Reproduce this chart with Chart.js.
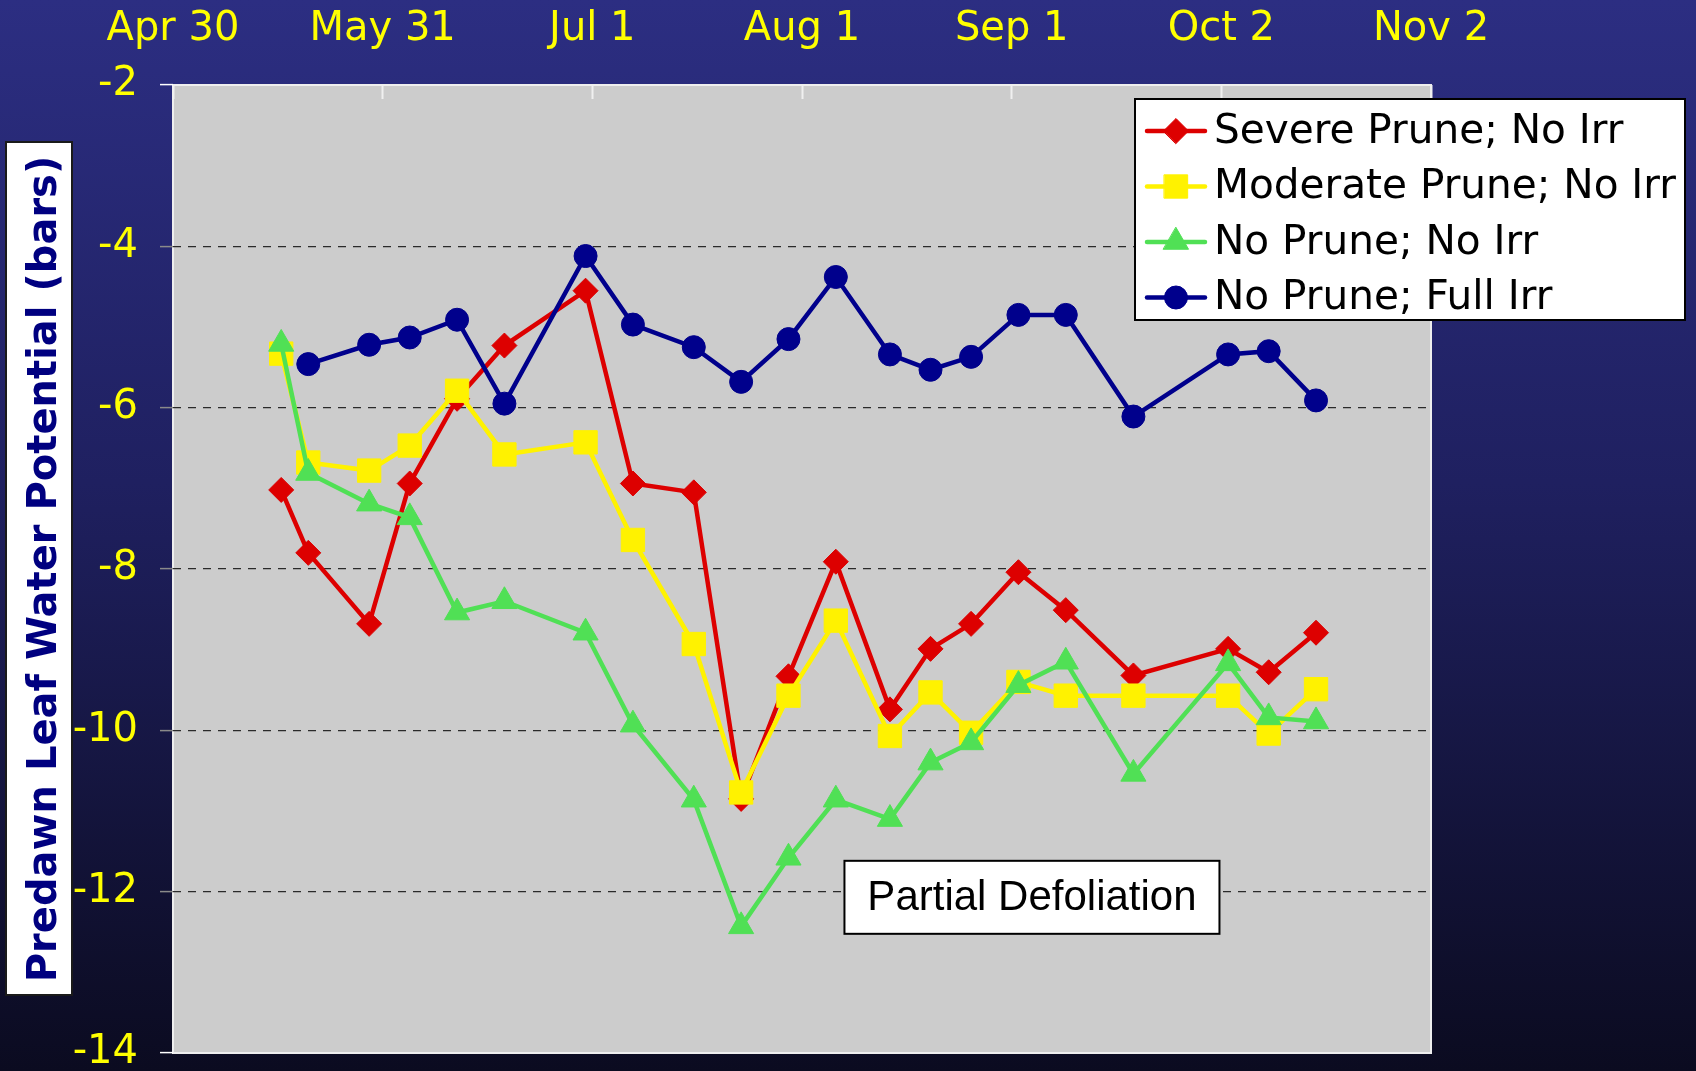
<!DOCTYPE html>
<html>
<head>
<meta charset="utf-8">
<title>Predawn Leaf Water Potential</title>
<script src="https://cdn.jsdelivr.net/npm/chart.js@4/dist/chart.umd.min.js"></script>
<style>
  html, body { margin: 0; padding: 0; }
  body {
    width: 1696px; height: 1071px; overflow: hidden;
    background: linear-gradient(to bottom, #2c2e82 0%, #1f2060 45%, #0b0b20 100%);
  }
  #chart { display: block; }
</style>
</head>
<body>
<canvas id="chart" width="1696" height="1071"></canvas>
<script>
// Sampling dates, counted in days after Apr 30
const sampleDays = [16, 20, 29, 35, 42, 49, 61, 68, 77, 84, 91, 98, 106, 112, 118, 125, 132, 142, 156, 162, 169];

// Predawn leaf water potential (bars) per treatment
const severePruneNoIrr   = [-7.02, -7.80, -8.68, -6.94, -5.89, -5.23, -4.55, -6.94, -7.05, -10.85, -9.33, -7.91, -9.74, -8.99, -8.68, -8.04, -8.51, -9.32, -8.99, -9.28, -8.79];
const moderatePruneNoIrr = [-5.33, -6.68, -6.78, -6.47, -5.79, -6.58, -6.43, -7.64, -8.93, -10.77, -9.57, -8.64, -10.07, -9.53, -10.03, -9.40, -9.57, -9.57, -9.57, -10.04, -9.49];
const noPruneNoIrr       = [-5.21, -6.81, -7.19, -7.36, -8.54, -8.40, -8.79, -9.93, -10.86, -12.43, -11.58, -10.86, -11.10, -10.40, -10.15, -9.44, -9.15, -10.54, -9.17, -9.84, -9.89];
const noPruneFullIrr     = [null, -5.46, -5.22, -5.13, -4.91, -5.95, -4.12, -4.97, -5.25, -5.68, -5.15, -4.38, -5.34, -5.53, -5.37, -4.85, -4.85, -6.11, -5.34, -5.30, -5.91];

const seriesNames = ['Severe Prune; No Irr', 'Moderate Prune; No Irr', 'No Prune; No Irr', 'No Prune; Full Irr'];

// Date axis: one major tick every 31 days
const dateTickLabels = ['Apr 30', 'May 31', 'Jul 1', 'Aug 1', 'Sep 1', 'Oct 2', 'Nov 2'];
const dateTickStep = 31;

// Value axis
const yMin = -14, yMax = -2, yStep = 2;

const annotationText = 'Partial Defoliation';

function points(values) {
  return values.map((v, i) => ({ x: sampleDays[i], y: v }));
}

const styles = [
  { color: '#dd0000', pointStyle: 'rectRot',  radius: 12.5 },
  { color: '#fff200', pointStyle: 'rect',     radius: 16.5 },
  { color: '#50e055', pointStyle: 'triangle', radius: 14.5 },
  { color: '#00008c', pointStyle: 'circle',   radius: 11.5 }
];
const seriesValues = [severePruneNoIrr, moderatePruneNoIrr, noPruneNoIrr, noPruneFullIrr];

const datasets = seriesValues.map((vals, i) => ({
  label: seriesNames[i],
  data: points(vals),
  borderColor: styles[i].color,
  backgroundColor: styles[i].color,
  pointBackgroundColor: styles[i].color,
  pointBorderColor: styles[i].color,
  pointBorderWidth: 1,
  pointStyle: styles[i].pointStyle,
  pointRadius: styles[i].radius,
  borderWidth: 4.5,
  tension: 0,
  order: seriesValues.length - i
}));

// Panel behind the y-axis title, plot background and frame
const backdrop = {
  id: 'backdrop',
  beforeDraw(chart) {
    const { ctx, chartArea: a } = chart;
    ctx.save();
    const panelTop = a.top + 57, panelBottom = a.bottom - 58;
    ctx.fillStyle = '#ffffff';
    ctx.fillRect(6, panelTop, 66, panelBottom - panelTop);
    ctx.strokeStyle = '#1a1a1a';
    ctx.lineWidth = 2;
    ctx.strokeRect(6, panelTop, 66, panelBottom - panelTop);

    ctx.fillStyle = '#cccccc';
    ctx.fillRect(a.left, a.top, a.right - a.left, a.bottom - a.top);
    ctx.strokeStyle = '#eeeeee';
    ctx.lineWidth = 2;
    ctx.strokeRect(a.left, a.top, a.right - a.left, a.bottom - a.top);
    ctx.restore();
  }
};

// Boxed legend and the defoliation note
const overlays = {
  id: 'overlays',
  afterDraw(chart) {
    const { ctx, chartArea: a } = chart;
    const xs = chart.scales.x, ys = chart.scales.y;
    ctx.save();

    // note box
    const cx = xs.getPixelForValue(127), cy = ys.getPixelForValue(-12.07);
    const bw = 375, bh = 73;
    ctx.fillStyle = '#ffffff';
    ctx.fillRect(cx - bw / 2, cy - bh / 2, bw, bh);
    ctx.strokeStyle = '#000000';
    ctx.lineWidth = 2;
    ctx.strokeRect(cx - bw / 2, cy - bh / 2, bw, bh);
    ctx.fillStyle = '#000000';
    ctx.font = '42px "Liberation Sans", Arial, sans-serif';
    ctx.textAlign = 'center';
    ctx.textBaseline = 'middle';
    ctx.fillText(annotationText, cx, cy + 1);

    // legend
    const lx = a.right - 296, ly = a.top + 14, lw = 550, lh = 221;
    ctx.fillStyle = '#ffffff';
    ctx.fillRect(lx, ly, lw, lh);
    ctx.strokeStyle = '#000000';
    ctx.lineWidth = 2;
    ctx.strokeRect(lx, ly, lw, lh);
    ctx.font = '40.6px "DejaVu Sans", Verdana, sans-serif';
    ctx.textAlign = 'left';
    ctx.textBaseline = 'middle';
    chart.data.datasets.forEach((ds, i) => {
      const y = ly + 32 + i * 55.5;
      ctx.strokeStyle = ds.borderColor;
      ctx.lineWidth = 4.5;
      ctx.lineCap = 'round';
      ctx.beginPath();
      ctx.moveTo(lx + 12, y);
      ctx.lineTo(lx + 70, y);
      ctx.stroke();
      ctx.fillStyle = ds.pointBackgroundColor;
      ctx.strokeStyle = ds.pointBorderColor;
      ctx.lineWidth = 1;
      Chart.helpers.drawPoint(ctx, { pointStyle: ds.pointStyle, radius: ds.pointRadius, rotation: 0, borderWidth: 1 }, lx + 41, y);
      ctx.fillStyle = '#000000';
      ctx.fillText(ds.label, lx + 79, y + 1);
    });
    ctx.restore();
  }
};

const hideEdges = (ctx, edge, inner) => {
  const v = ctx.tick ? ctx.tick.value : null;
  return (v === yMin || v === yMax) ? edge : inner;
};

new Chart(document.getElementById('chart'), {
  type: 'line',
  data: { datasets },
  plugins: [backdrop, overlays],
  options: {
    responsive: false,
    animation: false,
    layout: { padding: { top: 0, left: 0, right: 265, bottom: 18 } },
    plugins: { legend: { display: false }, tooltip: { enabled: false } },
    scales: {
      x: {
        type: 'linear',
        position: 'top',
        min: 0,
        max: dateTickStep * (dateTickLabels.length - 1),
        afterFit(scale) { scale.height = 85; },
        border: { display: false },
        grid: {
          drawOnChartArea: false,
          drawTicks: true,
          tickLength: -14,
          tickColor: '#f0f0f0',
          tickWidth: 2
        },
        ticks: {
          stepSize: dateTickStep,
          autoSkip: false,
          maxRotation: 0,
          padding: 45,
          color: '#ffff00',
          font: { family: '"DejaVu Sans"', size: 40 },
          callback: (v) => dateTickLabels[Math.round(v / dateTickStep)]
        }
      },
      y: {
        min: yMin,
        max: yMax,
        afterFit(scale) {
          scale.width = 173;
          scale.paddingTop = 0;
          scale.paddingBottom = 0;
        },
        border: { display: false, dash: [8, 7] },
        grid: {
          color: (ctx) => hideEdges(ctx, 'rgba(0,0,0,0)', '#2a2a2a'),
          lineWidth: 1.2,
          tickLength: 13,
          tickWidth: 1.5,
          tickColor: (ctx) => hideEdges(ctx, '#ffffff', '#8a8a8a')
        },
        ticks: {
          stepSize: yStep,
          padding: 22,
          color: '#ffff00',
          font: { family: '"DejaVu Sans"', size: 40 }
        },
        title: {
          display: true,
          text: 'Predawn Leaf Water Potential (bars)',
          color: '#000080',
          font: { family: '"DejaVu Sans"', size: 40, weight: 'bold' },
          padding: { top: 22, bottom: 0 }
        }
      }
    }
  }
});
</script>
</body>
</html>
